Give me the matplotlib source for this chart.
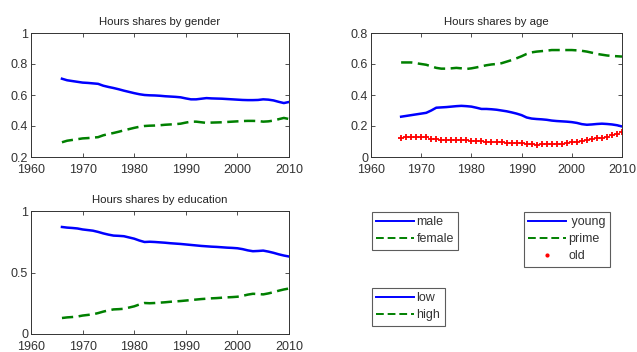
import matplotlib
matplotlib.use("Agg")
import matplotlib.pyplot as plt
from matplotlib.lines import Line2D

plt.rcParams['font.family'] = ['Liberation Sans', 'DejaVu Sans']

years = list(range(1966, 2011))

male = [0.705, 0.695, 0.69, 0.685, 0.68, 0.678, 0.675, 0.672, 0.66, 0.652,
        0.645, 0.637, 0.628, 0.62, 0.612, 0.605, 0.6, 0.598, 0.597, 0.595,
        0.592, 0.59, 0.588, 0.585, 0.578, 0.572, 0.572, 0.576, 0.58, 0.578,
        0.577, 0.576, 0.574, 0.572, 0.57, 0.568, 0.567, 0.567, 0.568, 0.572,
        0.57, 0.565, 0.556, 0.548, 0.555]
female = [0.295, 0.305, 0.31, 0.315, 0.32, 0.322, 0.325, 0.328, 0.34, 0.348,
          0.355, 0.363, 0.372, 0.38, 0.388, 0.395, 0.4, 0.402, 0.403, 0.405,
          0.408, 0.41, 0.412, 0.415, 0.422, 0.428, 0.428, 0.424, 0.42, 0.422,
          0.423, 0.424, 0.426, 0.428, 0.43, 0.432, 0.433, 0.433, 0.432, 0.428,
          0.43, 0.435, 0.444, 0.452, 0.445]

young = [0.26, 0.265, 0.27, 0.275, 0.28, 0.285, 0.30, 0.318, 0.32, 0.322,
         0.325, 0.328, 0.33, 0.328, 0.325, 0.318, 0.31, 0.31, 0.308, 0.305,
         0.30, 0.295, 0.288, 0.28, 0.27, 0.255, 0.248, 0.245, 0.243, 0.24,
         0.235, 0.232, 0.23, 0.228, 0.225, 0.22, 0.212, 0.208, 0.21, 0.213,
         0.215, 0.213, 0.21, 0.205, 0.197]
prime = [0.61, 0.61, 0.61, 0.605, 0.60, 0.595, 0.585, 0.575, 0.57, 0.57,
         0.572, 0.575, 0.572, 0.568, 0.572, 0.578, 0.585, 0.592, 0.597, 0.60,
         0.605, 0.615, 0.625, 0.637, 0.65, 0.665, 0.675, 0.68, 0.683, 0.686,
         0.69, 0.69, 0.69, 0.69, 0.69, 0.688, 0.685, 0.68, 0.673, 0.665,
         0.66, 0.655, 0.652, 0.65, 0.648]
old = [0.125, 0.13, 0.13, 0.13, 0.13, 0.13, 0.115, 0.113, 0.112, 0.11,
       0.108, 0.107, 0.107, 0.107, 0.106, 0.104, 0.102, 0.10, 0.098, 0.096,
       0.094, 0.092, 0.091, 0.09, 0.089, 0.087, 0.085, 0.08, 0.083, 0.084,
       0.084, 0.085, 0.086, 0.09, 0.095, 0.10, 0.105, 0.11, 0.115, 0.12,
       0.125, 0.128, 0.14, 0.148, 0.16]

low = [0.87, 0.865, 0.862, 0.858, 0.85, 0.845, 0.84, 0.83, 0.818, 0.808,
       0.80, 0.798, 0.795, 0.785, 0.775, 0.76, 0.748, 0.75, 0.748, 0.745,
       0.742, 0.738, 0.735, 0.732, 0.728, 0.724, 0.72, 0.716, 0.713, 0.71,
       0.708, 0.705, 0.702, 0.70, 0.697, 0.69, 0.68, 0.673, 0.675, 0.678,
       0.67, 0.66, 0.648, 0.638, 0.63]
high = [0.13, 0.135, 0.138, 0.142, 0.15, 0.155, 0.16, 0.17, 0.182, 0.192,
        0.20, 0.202, 0.205, 0.215, 0.225, 0.24, 0.252, 0.25, 0.252, 0.255,
        0.258, 0.262, 0.265, 0.268, 0.272, 0.276, 0.28, 0.284, 0.287, 0.29,
        0.292, 0.295, 0.298, 0.30, 0.303, 0.31, 0.32, 0.327, 0.325, 0.322,
        0.33, 0.34, 0.352, 0.362, 0.37]

xticks = [1960, 1970, 1980, 1990, 2000, 2010]

BLUE = '#0000ff'
GREEN = '#008000'
RED = '#ff0000'
LW = 1.8
DASH = (0, (4.5, 2.2))

fig = plt.figure(figsize=(6.37, 3.52), dpi=100)
W, H = 637, 352

def ax_at(l, t, r, b):
    return fig.add_axes([l / W, 1 - b / H, (r - l) / W, (b - t) / H])

def style(ax, title, ylim, yticks, yticklabels):
    ax.set_xlim(1960, 2010)
    ax.set_ylim(*ylim)
    ax.set_xticks(xticks)
    ax.set_yticks(yticks)
    ax.set_yticklabels(yticklabels)
    ax.tick_params(direction='in', length=3, width=0.6, labelsize=9,
                   top=True, right=True, colors='#333333',
                   labelcolor='#333333')
    ax.tick_params(axis='x', pad=5)
    ax.tick_params(axis='y', pad=2)
    for s in ax.spines.values():
        s.set_linewidth(0.7)
        s.set_color('#333333')
    ax.set_title(title, fontsize=8.2, pad=6, color='#222222')

ax1 = ax_at(31, 33, 289, 157)
ax1.plot(years, male, color=BLUE, lw=LW)
ax1.plot(years, female, color=GREEN, lw=LW, linestyle=DASH)
style(ax1, 'Hours shares by gender', (0.2, 1.0), [0.2, 0.4, 0.6, 0.8, 1.0],
      ['0.2', '0.4', '0.6', '0.8', '1'])

ax2 = ax_at(371, 33, 622, 157)
ax2.plot(years, young, color=BLUE, lw=LW)
ax2.plot(years, prime, color=GREEN, lw=LW, linestyle=DASH)
ax2.plot(years, old, color=RED, lw=0, marker='+', markersize=4, mew=1.3)
style(ax2, 'Hours shares by age', (0.0, 0.8), [0, 0.2, 0.4, 0.6, 0.8],
      ['0', '0.2', '0.4', '0.6', '0.8'])

ax3 = ax_at(31, 211, 289, 334)
ax3.plot(years, low, color=BLUE, lw=LW)
ax3.plot(years, high, color=GREEN, lw=LW, linestyle=DASH)
style(ax3, 'Hours shares by education', (0.0, 1.0), [0, 0.5, 1.0],
      ['0', '0.5', '1'])

def leg(handles, labels, x, y):
    lg = fig.legend(handles, labels, loc='upper left',
                    bbox_to_anchor=(x / W, 1 - y / H),
                    bbox_transform=fig.transFigure,
                    fontsize=9, frameon=True, fancybox=False,
                    handlelength=3.0, handletextpad=0.2,
                    borderpad=0.35, labelspacing=0.4, borderaxespad=0)
    fr = lg.get_frame()
    fr.set_edgecolor('#333333')
    fr.set_linewidth(0.8)
    for t in lg.get_texts():
        t.set_color('#333333')
    return lg

hb = Line2D([], [], color=BLUE, lw=1.4)
hg = Line2D([], [], color=GREEN, lw=1.4, linestyle=(0, (4, 2)))
hr = Line2D([], [], color=RED, lw=0, marker='.', markersize=4)

leg([hb, hg], ['male', 'female'], 372, 212)
leg([hb, hg, hr], [' young', 'prime', 'old'], 524, 212)
leg([hb, hg], ['low', 'high'], 372, 288)

fig.savefig('out.png', dpi=100, facecolor='white')
